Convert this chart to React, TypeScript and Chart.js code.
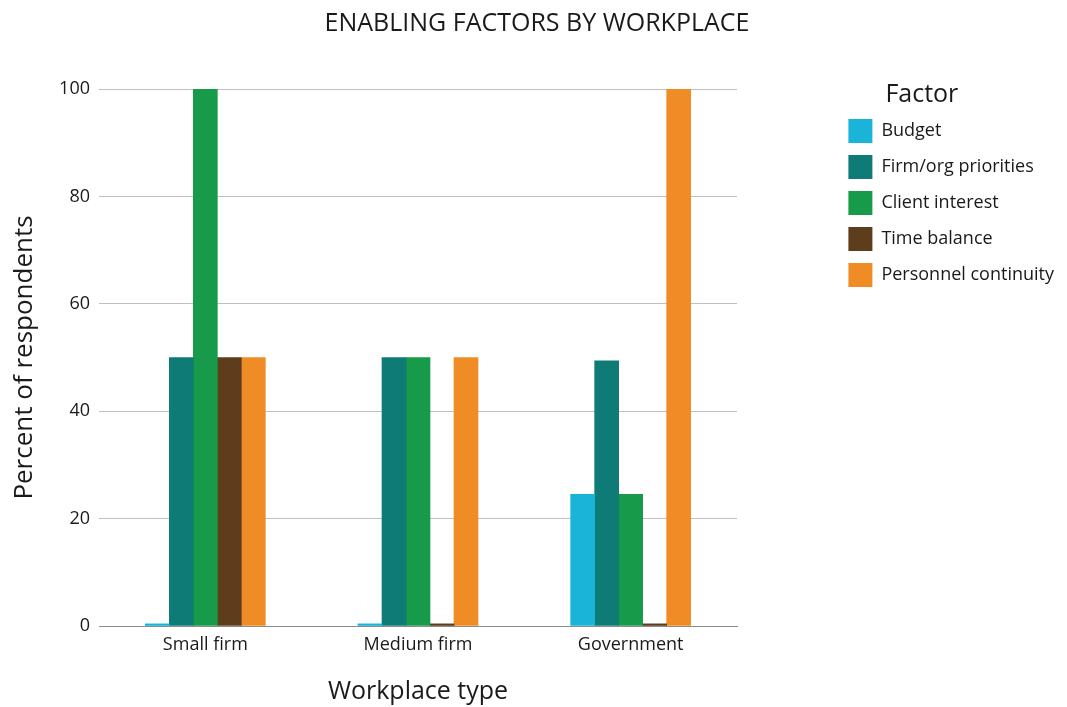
import React, { useEffect, useRef } from 'react';
import { Chart, registerables } from 'chart.js';

Chart.register(...registerables);

const categories = ['Small firm', 'Medium firm', 'Government'];
const seriesNames = ['Budget', 'Firm/org priorities', 'Client interest', 'Time balance', 'Personnel continuity'];
const budget = [0.4, 0.4, 24.5];
const firmPriorities = [50, 50, 49.4];
const clientInterest = [100, 50, 24.5];
const timeBalance = [50, 0.4, 0.4];
const personnelContinuity = [50, 50, 100];
const seriesColors = ['#19b4d8', '#0f7b76', '#179a4a', '#5e3d1c', '#f08c25'];

const chartTitle = 'ENABLING FACTORS BY WORKPLACE';
const legendTitle = 'Factor';
const xTitle = 'Workplace type';
const yTitle = 'Percent of respondents';

const family = "'Open Sans', sans-serif";
const textColor = '#1a1a1a';

// Draws the legend heading, indented relative to the legend boxes as in the reference.
const legendHeading = {
  id: 'legendHeading',
  afterDraw(chart: any) {
    const lg = chart.legend;
    if (!lg) return;
    const ctx = chart.ctx;
    ctx.save();
    ctx.font = `25px ${family}`;
    ctx.fillStyle = textColor;
    ctx.textAlign = 'left';
    ctx.textBaseline = 'middle';
    ctx.fillText(legendTitle, lg.left + 49, lg.top + 95);
    ctx.restore();
  },
};

export default function App() {
  const ref = useRef<HTMLCanvasElement>(null);

  useEffect(() => {
    document.body.style.margin = '0';
    const values = [budget, firmPriorities, clientInterest, timeBalance, personnelContinuity];

    const chart = new Chart(ref.current as HTMLCanvasElement, {
      type: 'bar',
      data: {
        labels: categories,
        datasets: seriesNames.map((name, i) => ({
          label: name,
          data: values[i],
          backgroundColor: seriesColors[i],
          borderWidth: 0,
          barThickness: 24,
        })),
      },
      plugins: [legendHeading],
      options: {
        responsive: false,
        animation: false,
        layout: { padding: { left: 10, right: 3, top: 0, bottom: 0 } },
        font: { family },
        plugins: {
          title: {
            display: true,
            text: chartTitle,
            color: textColor,
            font: { family, size: 25, weight: 'normal', lineHeight: 1.2 },
            padding: { top: 9, bottom: 50 },
          },
          legend: {
            position: 'right',
            align: 'start',
            title: {
              display: true,
              text: '',
              font: { family, size: 25, lineHeight: 1 },
              padding: { top: 82, bottom: 0 },
            },
            labels: {
              boxWidth: 24,
              boxHeight: 24,
              padding: 12,
              color: textColor,
              font: { family, size: 18 },
            },
          },
          tooltip: { enabled: false },
        },
        scales: {
          x: {
            grid: { display: false, drawTicks: false },
            border: { display: true, color: '#8c8c8c', width: 1 },
            ticks: { padding: 8, color: textColor, font: { family, size: 18 } },
            title: {
              display: true,
              text: xTitle,
              color: textColor,
              font: { family, size: 25, lineHeight: 1.2 },
              padding: 0,
            },
            afterFit: (s: any) => { s.height = 81; },
          },
          y: {
            min: 0,
            max: 100,
            ticks: { stepSize: 20, padding: 9, color: textColor, font: { family, size: 18 } },
            grid: { color: '#bfbfbf', drawTicks: false, lineWidth: 1 },
            border: { display: false },
            title: {
              display: true,
              text: yTitle,
              color: textColor,
              font: { family, size: 26, lineHeight: 1.1 },
              padding: 0,
            },
            afterFit: (s: any) => { s.width = 89; },
          },
          gap: {
            type: 'linear',
            position: 'right',
            display: false,
            afterFit: (s: any) => {
              const lw = s.chart.legend ? s.chart.legend.width : 232;
              s.width = Math.max(0, 1067 - 3 - 737 - lw);
            },
          },
        },
      } as any,
    });
    return () => chart.destroy();
  }, []);

  return <canvas ref={ref} width={1067} height={707} style={{ display: 'block' }} />;
}
